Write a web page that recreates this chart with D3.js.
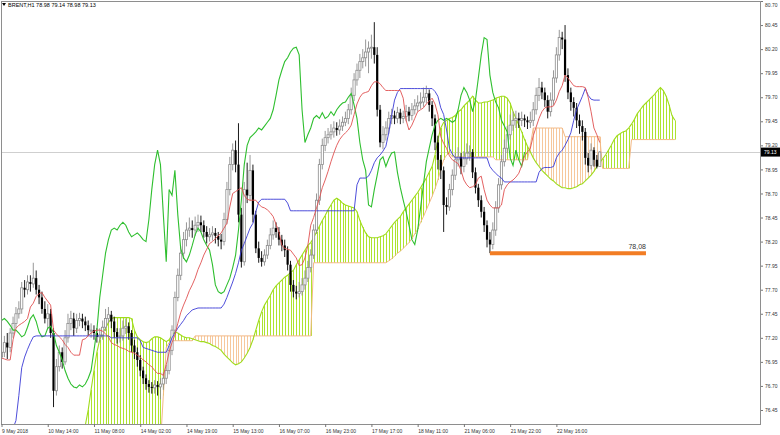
<!DOCTYPE html>
<html><head><meta charset="utf-8">
<script src="https://cdn.jsdelivr.net/npm/d3@7"></script>
<style>html,body{margin:0;padding:0;background:#fff;}svg{display:block;font-family:'Liberation Sans',Arial,sans-serif;}</style>
</head><body><svg id="chart" width="780" height="435"></svg>
<script>
// ---------------- DATA ----------------
const symbolTitle = "BRENT,H1";
const lastOHLC = ["78.98", "79.14", "78.98", "79.13"];
const timeLabels = ["9 May 2018","10 May 14:00","11 May 08:00","14 May 02:00","14 May 19:00","15 May 13:00","16 May 07:00","16 May 23:00","17 May 17:00","18 May 11:00","21 May 06:00","21 May 22:00","22 May 16:00"];
const timeLabelBars = [0,16,32,48,64,80,96,112,128,144,160,176,192];
const priceTicks = [80.70,80.45,80.20,79.95,79.70,79.45,79.20,78.95,78.70,78.45,78.20,77.95,77.70,77.45,77.20,76.95,76.70,76.45];
const currentPrice = 79.13;
const supportLevel = [78.08];
const supportBars = [169, 223];
const supportLabel = ["78,08"];
const ichimokuShift = [26];

const closes = [
77.05,77.15,77.10,77.25,77.35,77.45,77.50,77.72,77.70,77.78,
77.76,77.82,77.70,77.62,77.50,77.40,77.45,77.25,76.65,76.90,
77.05,76.95,77.20,77.35,77.40,77.30,77.38,77.40,77.37,77.33,
77.28,77.28,77.25,77.21,77.23,77.31,77.40,77.44,77.37,77.26,
77.21,77.22,77.30,77.32,77.25,77.12,77.05,76.97,76.86,76.78,
76.72,76.69,76.68,76.71,76.69,76.72,76.78,76.86,77.07,77.28,
77.62,77.85,78.08,78.22,78.32,78.34,78.32,78.37,78.40,78.37,
78.30,78.25,78.27,78.29,78.26,78.22,78.20,78.43,78.74,79.00,
79.15,79.00,78.48,77.99,78.74,78.68,78.94,78.48,78.13,78.03,
77.99,78.06,78.16,78.27,78.34,78.30,78.22,78.16,78.11,77.96,
77.75,77.68,77.66,77.68,77.75,77.82,77.93,78.06,78.32,78.63,
79.00,79.20,79.28,79.31,79.34,79.38,79.36,79.40,79.44,79.48,
79.57,79.72,79.88,79.98,80.07,80.11,80.17,80.21,80.22,80.14,
79.57,79.23,79.31,79.38,79.48,79.51,79.48,79.54,79.48,79.50,
79.55,79.51,79.57,79.61,79.64,79.65,79.70,79.74,79.62,79.48,
79.23,79.05,78.94,78.58,78.56,78.74,78.89,79.05,79.08,78.98,
79.06,79.12,79.13,78.92,78.76,78.63,78.51,78.37,78.22,78.17,
78.32,78.55,78.79,79.03,79.17,79.31,79.41,79.46,79.48,79.46,
79.48,79.46,79.44,79.46,79.57,79.72,79.80,79.75,79.67,79.55,
79.67,79.90,80.14,80.32,80.30,79.93,79.75,79.65,79.59,79.46,
79.40,79.34,79.07,78.99,79.15,79.05,78.98,79.13];

const opens = [
77.00,77.05,77.15,77.10,77.25,77.35,77.45,77.50,77.72,77.70,
77.78,77.76,77.82,77.70,77.62,77.50,77.40,77.45,77.25,76.65,
76.90,77.05,76.95,77.20,77.35,77.40,77.30,77.38,77.40,77.37,
77.33,77.28,77.28,77.25,77.21,77.23,77.31,77.40,77.44,77.37,
77.26,77.21,77.22,77.30,77.32,77.25,77.12,77.05,76.97,76.86,
76.78,76.72,76.69,76.68,76.71,76.69,76.72,76.78,76.86,77.07,
77.28,77.62,77.85,78.08,78.22,78.32,78.34,78.32,78.37,78.40,
78.37,78.30,78.25,78.27,78.29,78.26,78.22,78.20,78.43,78.74,
79.00,79.15,79.00,78.48,77.99,78.74,78.68,78.94,78.48,78.13,
78.03,77.99,78.06,78.16,78.27,78.34,78.30,78.22,78.16,78.11,
77.96,77.75,77.68,77.66,77.68,77.75,77.82,77.93,78.06,78.32,
78.63,79.00,79.20,79.28,79.31,79.34,79.38,79.36,79.40,79.44,
79.48,79.57,79.72,79.88,79.98,80.07,80.11,80.17,80.21,80.22,
80.14,79.57,79.23,79.31,79.38,79.48,79.51,79.48,79.54,79.48,
79.50,79.55,79.51,79.57,79.61,79.64,79.65,79.70,79.74,79.62,
79.48,79.23,79.05,78.94,78.58,78.56,78.74,78.89,79.05,79.08,
78.98,79.06,79.12,79.13,78.92,78.76,78.63,78.51,78.37,78.22,
78.17,78.32,78.55,78.79,79.03,79.17,79.31,79.41,79.46,79.48,
79.46,79.48,79.46,79.44,79.46,79.57,79.72,79.80,79.75,79.67,
79.55,79.67,79.90,80.14,80.32,80.30,79.93,79.75,79.65,79.59,
79.46,79.40,79.34,79.07,78.99,79.15,79.05,78.98];

const highs = [
77.15,77.22,77.25,77.30,77.42,77.52,77.58,77.78,77.80,77.85,
77.85,77.98,77.90,77.75,77.68,77.58,77.55,77.50,77.30,76.98,
77.12,77.10,77.28,77.45,77.48,77.46,77.45,77.46,77.45,77.42,
77.38,77.35,77.33,77.30,77.30,77.38,77.50,77.52,77.48,77.42,
77.30,77.30,77.38,77.40,77.36,77.28,77.18,77.10,77.02,76.90,
76.82,76.76,76.74,76.76,76.75,76.78,76.84,76.92,77.12,77.33,
77.68,77.92,78.15,78.30,78.40,78.45,78.42,78.46,78.48,78.47,
78.42,78.36,78.34,78.36,78.34,78.30,78.28,78.50,78.82,79.08,
79.22,79.25,79.43,78.55,78.82,79.02,79.10,79.00,78.52,78.20,
78.10,78.12,78.22,78.34,78.42,78.40,78.35,78.27,78.22,78.15,
78.00,77.80,77.74,77.78,77.82,77.90,78.00,78.12,78.38,78.70,
79.06,79.27,79.35,79.38,79.42,79.45,79.44,79.47,79.50,79.55,
79.63,79.80,79.95,80.05,80.15,80.20,80.30,80.28,80.35,80.48,
80.22,79.62,79.40,79.45,79.55,79.58,79.56,79.60,79.58,79.56,
79.62,79.60,79.64,79.68,79.72,79.75,79.80,79.82,79.78,79.66,
79.52,79.30,79.10,78.98,78.66,78.80,78.95,79.12,79.18,79.12,
79.14,79.22,79.20,79.16,78.97,78.80,78.68,78.56,78.42,78.30,
78.40,78.62,78.86,79.10,79.26,79.40,79.52,79.55,79.56,79.54,
79.55,79.52,79.50,79.55,79.65,79.80,79.90,79.86,79.80,79.72,
79.75,79.98,80.22,80.40,80.38,80.45,80.00,79.80,79.70,79.64,
79.52,79.46,79.38,79.12,79.22,79.18,79.10,79.14];

const lows = [
76.92,77.00,76.98,77.05,77.20,77.30,77.40,77.45,77.62,77.65,
77.68,77.72,77.65,77.55,77.45,77.35,77.30,77.20,76.48,76.60,
76.85,76.88,76.92,77.15,77.28,77.22,77.25,77.32,77.30,77.27,
77.22,77.20,77.18,77.15,77.15,77.18,77.27,77.35,77.30,77.20,
77.14,77.15,77.17,77.24,77.18,77.05,76.98,76.90,76.80,76.72,
76.66,76.63,76.62,76.62,76.60,76.56,76.66,76.72,76.82,77.02,
77.25,77.58,77.80,78.02,78.15,78.25,78.24,78.26,78.30,78.30,
78.24,78.18,78.20,78.21,78.18,78.15,78.12,78.16,78.38,78.68,
78.94,78.92,78.40,77.93,77.95,78.60,78.62,78.40,78.08,77.98,
77.94,77.95,78.02,78.12,78.22,78.24,78.16,78.10,78.04,77.90,
77.68,77.62,77.60,77.62,77.64,77.70,77.78,77.88,78.02,78.28,
78.58,78.95,79.14,79.22,79.26,79.28,79.30,79.31,79.35,79.40,
79.42,79.52,79.66,79.82,79.90,80.00,80.02,79.95,80.10,80.05,
79.50,79.18,79.16,79.25,79.32,79.42,79.42,79.43,79.42,79.43,
79.45,79.45,79.46,79.52,79.55,79.58,79.60,79.64,79.55,79.40,
79.15,78.95,78.85,78.30,78.48,78.52,78.68,78.84,78.98,78.90,
78.92,79.00,79.04,78.86,78.70,78.56,78.45,78.30,78.14,78.08,
78.12,78.26,78.50,78.74,78.98,79.12,79.26,79.35,79.38,79.38,
79.40,79.39,79.37,79.38,79.40,79.52,79.66,79.68,79.60,79.48,
79.50,79.62,79.85,80.08,80.20,79.86,79.68,79.56,79.50,79.38,
79.32,79.25,79.00,78.92,78.95,78.98,78.96,78.98];

const tenkan = [
76.99,76.98,76.97,76.97,77.18,77.30,77.33,77.35,77.37,77.40,
77.52,77.56,77.63,77.66,77.67,77.62,77.58,77.54,77.28,77.24,
77.21,77.18,77.13,77.10,77.05,77.02,77.02,77.02,77.18,77.19,
77.22,77.25,77.27,77.28,77.28,77.27,77.24,77.21,77.15,77.13,
77.12,77.10,77.09,77.08,77.06,77.05,77.04,77.02,77.00,76.97,
76.95,76.92,76.90,76.86,76.83,76.83,76.81,76.92,77.05,77.15,
77.23,77.35,77.46,77.54,77.61,77.69,77.75,77.82,77.91,77.98,
78.06,78.12,78.18,78.20,78.23,78.26,78.29,78.34,78.39,78.56,
78.70,78.72,78.74,78.76,78.68,78.64,78.63,78.63,78.63,78.59,
78.56,78.55,78.53,78.50,78.46,78.38,78.30,78.16,78.13,78.12,
78.11,78.07,78.03,77.95,77.96,78.03,78.16,78.37,78.45,78.55,
78.65,78.76,78.84,78.93,79.03,79.12,79.20,79.26,79.30,79.33,
79.36,79.41,79.52,79.63,79.70,79.74,79.75,79.76,79.82,79.86,
79.86,79.84,79.80,79.77,79.77,79.77,79.77,79.77,79.77,79.69,
79.46,79.36,79.41,79.48,79.55,79.57,79.59,79.63,79.66,79.69,
79.63,79.52,79.29,79.22,79.17,79.09,79.05,79.03,79.01,78.94,
78.84,78.79,78.76,78.77,78.79,78.86,78.88,78.74,78.63,78.58,
78.55,78.55,78.55,78.58,78.74,78.79,78.82,78.84,78.87,78.91,
78.99,79.09,79.13,79.17,79.30,79.39,79.48,79.55,79.59,79.60,
79.60,79.61,79.67,79.76,79.82,79.93,79.90,79.86,79.82,79.81,
79.81,79.81,79.80,79.70,79.55,79.38,79.31,79.23];

const kijun = [
76.10,76.12,76.15,76.20,76.26,76.34,76.60,76.89,77.00,77.08,
77.15,77.21,77.22,77.22,77.22,77.22,77.22,77.22,77.22,77.22,
77.22,77.22,77.22,77.22,77.22,77.22,77.22,77.22,77.22,77.22,
77.22,77.22,77.22,77.22,77.22,77.22,77.22,77.22,77.20,77.20,
77.20,77.20,77.20,77.20,77.20,77.20,77.20,77.20,77.17,77.10,
77.09,77.08,77.07,77.06,77.05,77.05,77.05,77.05,77.12,77.20,
77.25,77.30,77.34,77.38,77.43,77.46,77.49,77.50,77.51,77.51,
77.51,77.51,77.51,77.51,77.51,77.51,77.51,77.55,77.62,77.70,
77.78,77.87,77.98,78.11,78.18,78.26,78.34,78.39,78.51,78.61,
78.64,78.64,78.64,78.64,78.64,78.64,78.64,78.64,78.64,78.60,
78.52,78.52,78.52,78.52,78.52,78.52,78.52,78.52,78.52,78.52,
78.52,78.52,78.52,78.52,78.52,78.52,78.52,78.52,78.52,78.52,
78.52,78.52,78.52,78.79,78.86,78.86,78.86,78.88,78.94,79.02,
79.07,79.10,79.14,79.19,79.33,79.51,79.67,79.75,79.79,79.79,
79.79,79.79,79.79,79.79,79.79,79.79,79.79,79.79,79.79,79.79,
79.76,79.71,79.59,79.52,79.36,79.17,79.11,79.07,79.07,79.07,
79.07,79.07,79.07,79.07,79.07,79.07,79.07,79.07,79.07,78.98,
78.94,78.91,78.88,78.86,78.82,78.82,78.82,78.82,78.82,78.82,
78.82,78.82,78.82,78.82,78.82,78.82,78.92,78.96,78.97,78.97,
78.97,78.98,79.07,79.12,79.15,79.20,79.26,79.33,79.46,79.57,
79.64,79.71,79.79,79.72,79.68,79.67,79.67,79.67];

const spanA = [
76.00,76.00,76.00,76.00,76.00,76.00,76.00,76.00,76.00,76.00,
76.00,76.00,76.00,76.00,76.00,76.00,76.00,76.00,76.00,76.00,
76.00,76.00,76.00,76.00,76.00,76.05,76.10,76.15,76.22,
76.29,76.45,76.66,76.86,77.05,77.18,77.25,77.30,77.36,77.40,
77.41,77.41,77.41,77.41,77.41,77.41,77.40,77.28,77.21,77.18,
77.16,77.15,77.16,77.19,77.21,77.21,77.20,77.18,77.16,77.18,
77.23,77.26,77.25,77.23,77.21,77.20,77.20,77.19,77.18,77.17,
77.16,77.16,77.15,77.14,77.12,77.11,77.09,77.07,77.03,77.00,
76.97,76.94,76.92,76.93,76.95,76.99,77.04,77.10,77.18,77.28,
77.38,77.47,77.54,77.59,77.64,77.70,77.74,77.77,77.80,77.83,
77.85,77.88,77.90,77.96,78.01,78.06,78.11,78.16,78.19,78.24,
78.30,78.36,78.42,78.47,78.53,78.58,78.63,78.65,78.63,78.60,
78.58,78.57,78.56,78.55,78.51,78.42,78.35,78.29,78.25,78.24,
78.24,78.24,78.25,78.26,78.28,78.32,78.36,78.40,78.43,78.46,
78.51,78.55,78.59,78.63,78.67,78.71,78.76,78.81,78.86,78.92,
78.98,79.10,79.26,79.38,79.44,79.46,79.48,79.49,79.51,79.55,
79.57,79.61,79.64,79.67,79.71,79.67,79.64,79.64,79.65,79.65,
79.66,79.67,79.69,79.70,79.71,79.71,79.69,79.64,79.55,79.48,
79.41,79.34,79.26,79.19,79.13,79.07,79.02,78.98,78.94,78.91,
78.88,78.85,78.83,78.80,78.78,78.76,78.76,78.75,78.75,78.76,
78.77,78.79,78.80,78.83,78.86,78.89,78.93,78.98,79.02,79.06,
79.10,79.15,79.20,79.26,79.30,79.32,79.34,79.35,79.38,79.42,
79.47,79.53,79.57,79.61,79.64,79.67,79.70,79.73,79.77,79.80,
79.77,79.71,79.62,79.51,79.46];

const spanB = [
75.95,75.95,75.95,75.95,75.95,75.95,75.95,75.95,75.95,75.95,
75.95,75.95,75.95,75.95,75.95,75.95,75.95,75.95,75.95,75.95,
75.95,75.95,75.95,75.95,75.95,75.95,75.95,75.95,75.95,75.95,
75.95,75.95,75.95,75.95,75.95,75.95,75.95,75.95,75.95,75.95,
75.95,75.95,75.95,75.95,75.95,75.95,75.95,75.95,75.95,75.95,
75.95,75.95,75.95,75.95,75.95,
76.10,76.60,77.10,77.15,
77.17,77.17,77.17,77.17,77.17,77.17,77.17,77.17,
77.22,77.22,77.22,77.22,77.22,77.22,77.22,77.22,77.22,77.22,
77.22,77.22,77.22,77.22,77.22,77.22,77.22,77.22,77.22,77.22,
77.22,77.22,77.22,77.22,77.22,77.22,77.22,77.22,77.22,77.22,
77.22,77.22,77.22,77.22,77.22,77.22,77.22,77.22,77.22,77.22,
77.22,
77.98,77.98,77.98,77.98,77.98,77.98,77.98,77.98,77.98,77.98,
77.98,77.98,77.98,77.98,77.98,77.98,77.98,77.98,77.98,77.98,
77.98,77.98,77.98,77.98,77.98,77.98,
78.00,78.02,78.05,78.08,78.10,78.13,78.16,78.19,78.23,78.28,
78.33,78.40,78.46,78.53,78.60,78.67,78.75,78.84,78.95,79.05,
79.10,79.12,
79.08,79.08,79.08,79.08,79.08,79.08,79.08,79.08,79.08,79.08,
79.08,79.08,79.08,79.08,79.08,
79.05,79.05,79.05,79.05,79.05,79.05,79.05,79.05,79.05,79.05,
79.05,79.05,
79.20,
79.38,79.38,79.38,79.38,79.38,79.38,79.38,79.38,79.38,79.38,79.38,
79.29,79.29,79.29,79.29,79.29,79.29,79.29,79.29,79.29,79.29,79.29,79.29,79.29,
78.96,78.96,78.96,78.96,78.96,78.96,78.96,78.96,78.96,78.96,
79.26,79.26,79.26,79.26,79.26,79.26,79.26,79.26,79.26,79.26,
79.26,79.26,79.26,79.26,79.26,79.26];

// ---------------- DRAW ----------------
const svg = d3.select('#chart');
const P = {l:1, t:1, r:761, b:424};
const x = d3.scaleLinear().domain([0, 260]).range([1.5, 1.5 + 260 * 2.89]);
const y = d3.scaleLinear().domain([76.45, 80.70]).range([410, 1]);

svg.append('defs').append('clipPath').attr('id','clip')
  .append('rect').attr('x',P.l).attr('y',P.t).attr('width',P.r-P.l).attr('height',P.b-P.t);

const plot = svg.append('g').attr('clip-path','url(#clip)');

// current price line
plot.append('line').attr('x1',P.l).attr('x2',P.r)
  .attr('y1',Math.round(y(currentPrice))+0.5).attr('y2',Math.round(y(currentPrice))+0.5)
  .attr('stroke','#cfcfcf').attr('stroke-width',1);

// cloud hatching
const GREEN = '#ade32f', ORANGE = '#f6c89c';
const nCloud = Math.min(spanA.length, spanB.length);
const cloudIdx = d3.range(nCloud);
plot.append('g').selectAll('line').data(cloudIdx).join('line')
  .attr('x1', j => Math.round(x(j)) + 0.5).attr('x2', j => Math.round(x(j)) + 0.5)
  .attr('y1', j => y(spanA[j])).attr('y2', j => y(spanB[j]))
  .attr('stroke', j => spanA[j] >= spanB[j] ? GREEN : ORANGE)
  .attr('stroke-width', 1);

const lineGen = d3.line().x(d => x(d[0])).y(d => y(d[1]));
plot.append('path').datum(cloudIdx.map(j => [j, spanB[j]]))
  .attr('d', lineGen).attr('fill','none').attr('stroke','#f3b985').attr('stroke-width',1);
plot.append('path').datum(cloudIdx.map(j => [j, spanA[j]]))
  .attr('d', lineGen).attr('fill','none').attr('stroke','#9fdc1c').attr('stroke-width',1.1);

// candles
const n = Math.min(opens.length, highs.length, lows.length, closes.length);
const bars = d3.range(n).map(i => ({i, o:opens[i], h:highs[i], l:lows[i], c:closes[i]}));
const cg = plot.append('g');
cg.selectAll('line').data(bars).join('line')
  .attr('x1', d => x(d.i)).attr('x2', d => x(d.i))
  .attr('y1', d => y(d.h)).attr('y2', d => y(d.l))
  .attr('stroke', d => d.c >= d.o ? '#8c8c8c' : '#000').attr('stroke-width', 0.9);
cg.selectAll('rect').data(bars).join('rect')
  .attr('x', d => x(d.i) - 1.1).attr('width', 2.2)
  .attr('y', d => y(Math.max(d.o, d.c)))
  .attr('height', d => Math.max(1, y(Math.min(d.o, d.c)) - y(Math.max(d.o, d.c))))
  .attr('fill', d => d.c >= d.o ? '#ffffff' : '#000000')
  .attr('stroke', d => d.c >= d.o ? '#8c8c8c' : 'none')
  .attr('stroke-width', 0.8);

// ichimoku lines
const shift = ichimokuShift[0];
const chikou = closes.map((c, i) => [i - shift, c]).filter(d => d[0] >= 0);
plot.append('path').datum(chikou).attr('d', lineGen).attr('fill','none').attr('stroke','#2fbf2f').attr('stroke-width',1.1);
plot.append('path').datum(kijun.map((v,i)=>[i,v])).attr('d', lineGen).attr('fill','none').attr('stroke','#3a3ad6').attr('stroke-width',0.9);
plot.append('path').datum(tenkan.map((v,i)=>[i,v])).attr('d', lineGen).attr('fill','none').attr('stroke','#e05050').attr('stroke-width',0.9);

// support line
plot.append('line')
  .attr('x1', x(supportBars[0])).attr('x2', x(supportBars[1]))
  .attr('y1', y(supportLevel[0])).attr('y2', y(supportLevel[0]))
  .attr('stroke', '#f27d24').attr('stroke-width', 4);
plot.append('text').attr('x', x(supportBars[1])).attr('y', y(supportLevel[0]) - 4)
  .attr('text-anchor','end').attr('font-size', 7).attr('fill','#333').text(supportLabel[0]);

// frame
svg.append('rect').attr('x',P.l+0.5).attr('y',P.t+0.5).attr('width',P.r-P.l-1).attr('height',P.b-P.t)
  .attr('fill','none').attr('stroke','#8e8e8e').attr('stroke-width',1);

// y axis
const yAxis = d3.axisRight(y).tickValues(priceTicks).tickFormat(d3.format('.2f')).tickSize(2).tickPadding(2);
const ya = svg.append('g').attr('transform',`translate(${P.r},0)`).call(yAxis);
ya.select('.domain').remove();
ya.selectAll('line').attr('stroke','#777');
ya.selectAll('text').attr('font-size',5).attr('fill','#333').attr('font-family',"'Liberation Sans',Arial,sans-serif")
  .attr('dy', (d) => d === priceTicks[0] ? '1.05em' : '0.32em');

// current price tag
const cy = y(currentPrice);
svg.append('rect').attr('x',P.r).attr('y',cy-4.5).attr('width',19).attr('height',9).attr('fill','#000');
svg.append('text').attr('x',P.r+3).attr('y',cy+2).attr('font-size',5).attr('fill','#fff').text(currentPrice.toFixed(2));

// x axis
const xAxis = d3.axisBottom(x).tickValues(timeLabelBars).tickFormat((d,i)=>timeLabels[i]).tickSize(3).tickPadding(2);
const xa = svg.append('g').attr('transform',`translate(0,${P.b})`).call(xAxis);
xa.select('.domain').remove();
xa.selectAll('line').attr('stroke','#777');
xa.selectAll('text').attr('font-size',5).attr('fill','#333').attr('text-anchor','start')
  .attr('font-family',"'Liberation Sans',Arial,sans-serif");

// header
svg.append('path').attr('d','M2,3 L6,3 L4,6 Z').attr('fill','#000');
svg.append('text').attr('x',8).attr('y',7).attr('font-size',5.5).attr('fill','#000')
  .text(symbolTitle + '  ' + lastOHLC.join(' '));
</script></body></html>
